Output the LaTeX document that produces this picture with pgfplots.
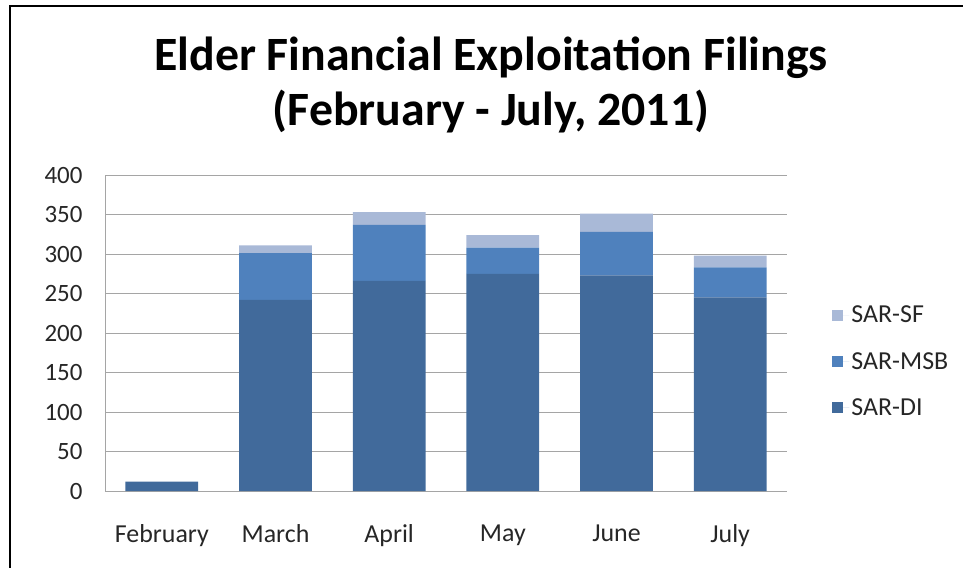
\documentclass[border=0pt]{standalone}
\usepackage{pgfplots}
\pgfplotsset{compat=1.18}
\usepackage{fontspec}
\setmainfont{Carlito}
\definecolor{di}{RGB}{65,106,155}
\definecolor{msb}{RGB}{79,129,189}
\definecolor{sf}{RGB}{169,185,215}
\definecolor{gridc}{RGB}{165,165,165}
\begin{document}
\begin{tikzpicture}
\path[use as bounding box] (0,0) rectangle (963bp,-568bp);
\draw[line width=2.5bp] (10bp,-568bp) -- (10bp,-6bp) -- (963bp,-6bp);
\node[font=\bfseries\fontsize{48}{55}\selectfont, align=center] at (491bp,-85bp) {Elder Financial Exploitation Filings\\(February - July, 2011)};
\begin{axis}[
 at={(105bp,-491bp)}, anchor=south west,
 scale only axis, width=682bp, height=316bp,
 ybar stacked, bar width=0.64,
 xmin=-0.5, xmax=5.5, ymin=0, ymax=400,
 xtick={0,...,5}, xticklabels={February,March,April,May,June,July},
 ytick={0,50,...,400},
 ymajorgrids, grid style={gridc, line width=1bp},
 axis x line*=bottom, axis y line*=left, axis line style={gridc, line width=1bp, -},
 tick style={draw=none},
 tick label style={font=\fontsize{25}{30}\selectfont, text=black!85},
 xticklabel style={font=\fontsize{26}{30}\selectfont, yshift=-30bp},
 yticklabel style={xshift=-19bp},
 /pgf/number format/assume math mode=true,
 legend style={at={(1.062,0.41)}, anchor=west, draw=none, fill=none, font=\fontsize{26}{30}\selectfont, row sep=24bp, text=black!85},
 legend cell align=left, reverse legend,
 legend image code/.code={\path (0bp,0bp) -- (17bp,0bp); \fill[#1] (0bp,-5.5bp) rectangle (11bp,5.5bp);},
]
\addplot[fill=di, draw=none] coordinates {(0,12) (1,242) (2,266) (3,275) (4,273) (5,245)};
\addlegendentry{SAR-DI}
\addplot[fill=msb, draw=none] coordinates {(0,0) (1,59) (2,71) (3,33) (4,55) (5,38)};
\addlegendentry{SAR-MSB}
\addplot[fill=sf, draw=none] coordinates {(0,0) (1,10) (2,16) (3,16) (4,23) (5,15)};
\addlegendentry{SAR-SF}
\end{axis}
\end{tikzpicture}
\end{document}
